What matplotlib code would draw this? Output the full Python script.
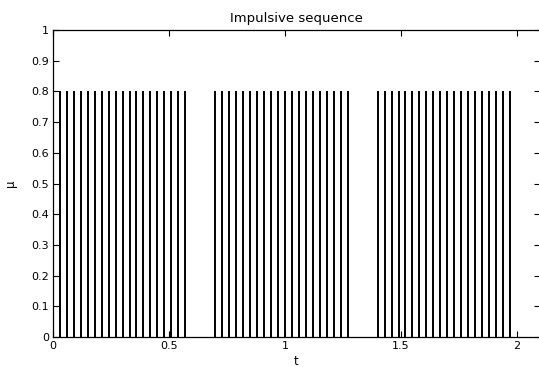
import matplotlib
matplotlib.use("Agg")
import matplotlib.pyplot as plt

# impulse instants, three bursts
burst1 = [0.00, 0.03, 0.06, 0.09, 0.12, 0.15, 0.18, 0.21, 0.24, 0.27,
          0.30, 0.33, 0.36, 0.39, 0.42, 0.45, 0.48, 0.51, 0.54, 0.57]
burst2 = [0.70, 0.73, 0.76, 0.79, 0.82, 0.85, 0.88, 0.91, 0.94, 0.97,
          1.00, 1.03, 1.06, 1.09, 1.12, 1.15, 1.18, 1.21, 1.24, 1.27]
burst3 = [1.40, 1.43, 1.46, 1.49, 1.52, 1.55, 1.58, 1.61, 1.64, 1.67,
          1.70, 1.73, 1.76, 1.79, 1.82, 1.85, 1.88, 1.91, 1.94, 1.97]
impulse_height = 0.8

xticks = [0, 0.5, 1, 1.5, 2]
xticklabels = ["0", "0.5", "1", "1.5", "2"]
yticks = [0, 0.1, 0.2, 0.3, 0.4, 0.5, 0.6, 0.7, 0.8, 0.9, 1]
yticklabels = ["0", "0.1", "0.2", "0.3", "0.4", "0.5", "0.6", "0.7", "0.8", "0.9", "1"]

plt.rcParams['font.family'] = ['DejaVu Sans']

W, H = 539, 367
fig = plt.figure(figsize=(W / 100, H / 100), dpi=100)
left, right, top, bottom = 53, 540, 30, 337
ax = fig.add_axes([left / W, 1 - bottom / H, (right - left) / W, (bottom - top) / H])

for burst in (burst1, burst2, burst3):
    ax.vlines(burst, 0, impulse_height, colors='black', linewidth=1.4)

ax.set_xlim(0, 2.1)
ax.set_ylim(0, 1)
ax.set_xticks(xticks)
ax.set_xticklabels(xticklabels)
ax.set_yticks(yticks)
ax.set_yticklabels(yticklabels)
ax.tick_params(direction='in', top=True, right=True, length=4, width=0.8,
               labelsize=8, pad=3)
for s in ax.spines.values():
    s.set_linewidth(0.9)

ax.set_title("Impulsive sequence", fontsize=9.5, pad=6)
ax.set_xlabel("t", fontsize=8.5, labelpad=3)
ax.set_ylabel("μ", fontsize=8.5, labelpad=10)

fig.savefig("out.png", dpi=100)
